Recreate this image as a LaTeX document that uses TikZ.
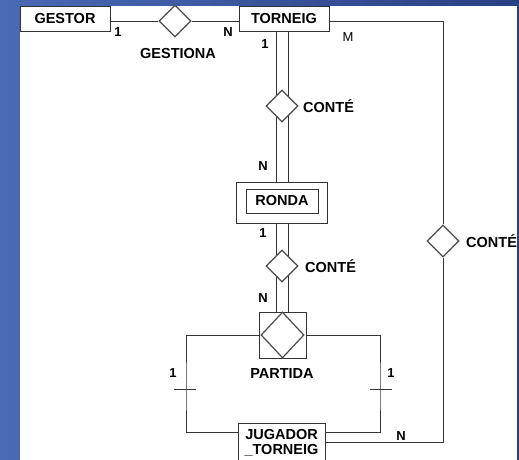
\documentclass[tikz,border=0pt]{standalone}
\usepackage{fontspec}
\setmainfont{Liberation Sans}
\usetikzlibrary{shapes.geometric,calc}
\pgfdeclarelayer{fons}
\pgfdeclarelayer{linies}
\pgfsetlayers{fons,linies,main}

\begin{document}
\begin{tikzpicture}[x=1pt,y=-1pt,
  entitat/.style={draw=black!80,line width=0.8pt,fill=white,inner sep=2pt,
    font=\bfseries\fontsize{14.5}{15}\selectfont},
  relacio/.style={shape=diamond,draw=black!70,line width=1.2pt,fill=white,
    inner sep=0pt,minimum width=32pt,minimum height=32pt},
  card/.style={inner sep=0pt,font=\bfseries\fontsize{13}{14}\selectfont},
  etiq/.style={inner sep=0pt,font=\bfseries\fontsize{14.5}{16}\selectfont},
  linia/.style={draw=black!80,line width=0.8pt}]
  \useasboundingbox (0,0) rectangle (519,460);
  \begin{pgfonlayer}{fons}
    \shade[left color={rgb,255:red,74;green,106;blue,180},
      right color={rgb,255:red,40;green,64;blue,132}] (0,0) rectangle (519,460);
    \fill[white] (20,6) rectangle (517,460);
  \end{pgfonlayer}

  % entitats
  \node[entitat,minimum width=90pt,minimum height=25pt] (gestor) at (65,18.5) {GESTOR};
  \node[entitat,minimum width=90pt,minimum height=25pt] (torneig) at (284,18.5) {TORNEIG};
  \node[draw=black!80,line width=0.8pt,fill=white,minimum width=91pt,minimum height=41pt] (ronda) at (281.5,202.5) {};
  \node[entitat,minimum width=72pt,minimum height=24pt] (rondaint) at (282,201) {RONDA};
  \node[entitat,anchor=north,minimum width=87pt,minimum height=38pt,align=center] (jugador) at (281.5,423) {JUGADOR\\\_TORNEIG};

  % relacions
  \node[relacio] (gestiona) at (175,21) {};
  \node[relacio] (conte1) at (282,106) {};
  \node[relacio] (conte2) at (282,266) {};
  \node[relacio] (conte3) at (443,241) {};
  \node[draw=black!80,line width=0.8pt,fill=white,minimum width=47pt,minimum height=46pt] (partida) at (282.5,335) {};
  \node[relacio,minimum width=43pt,minimum height=46pt] (partidarel) at (partida) {};
  \coordinate (esq) at (186,389);
  \coordinate (dre) at (380,389);

  \begin{pgfonlayer}{linies}
    \draw[linia] (gestor.east |- gestiona) -- (gestiona.west);
    \draw[linia] (gestiona.east) -- (torneig.west |- gestiona);
    \draw[linia] (torneig.east |- gestiona) -| (conte3.north);
    \draw[linia] (conte3.south) |- (jugador.east);
    \foreach \dx in {-6,6} {
      \draw[linia] ($(torneig.south -| conte1)+(\dx,0)$) -- ($(ronda.north -| conte1)+(\dx,0)$);
      \draw[linia] ($(ronda.south -| conte2)+(\dx,0)$) -- ($(partida.north -| conte2)+(\dx,0)$);
    }
    \draw[linia] (partidarel.west) -| (esq) |- ([yshift=10pt]jugador.west);
    \draw[linia] (partidarel.east) -| (dre) |- ([yshift=10pt]jugador.east);
    \draw[linia] ([xshift=-12pt]esq) -- ([xshift=10pt]esq);
    \draw[linia] ([xshift=-10pt]dre) -- ([xshift=12pt]dre);
  \end{pgfonlayer}

  % etiquetes
  \node[etiq] (lgestiona) at (178,54) {GESTIONA};
  \node[etiq,anchor=west] (lconte1) at (303,106) {CONTÉ};
  \node[etiq,anchor=west] (lconte2) at (305,266) {CONTÉ};
  \node[etiq,anchor=west] (lconte3) at (466,241) {CONTÉ};
  \node[etiq] (lpartida) at (282,374) {PARTIDA};

  % cardinalitats
  \node[card] (c1) at (118,32) {1};
  \node[card] (c2) at (228,32) {N};
  \node[card] (c3) at (265,44) {1};
  \node[inner sep=0pt,font=\fontsize{13}{14}\selectfont] (c4) at (348,37) {M};
  \node[card] (c5) at (263,166) {N};
  \node[card] (c6) at (263,233) {1};
  \node[card] (c7) at (263,298) {N};
  \node[card] (c8) at (173,373) {1};
  \node[card] (c9) at (391,373) {1};
  \node[card] (c10) at (401,436) {N};
\end{tikzpicture}
\end{document}
